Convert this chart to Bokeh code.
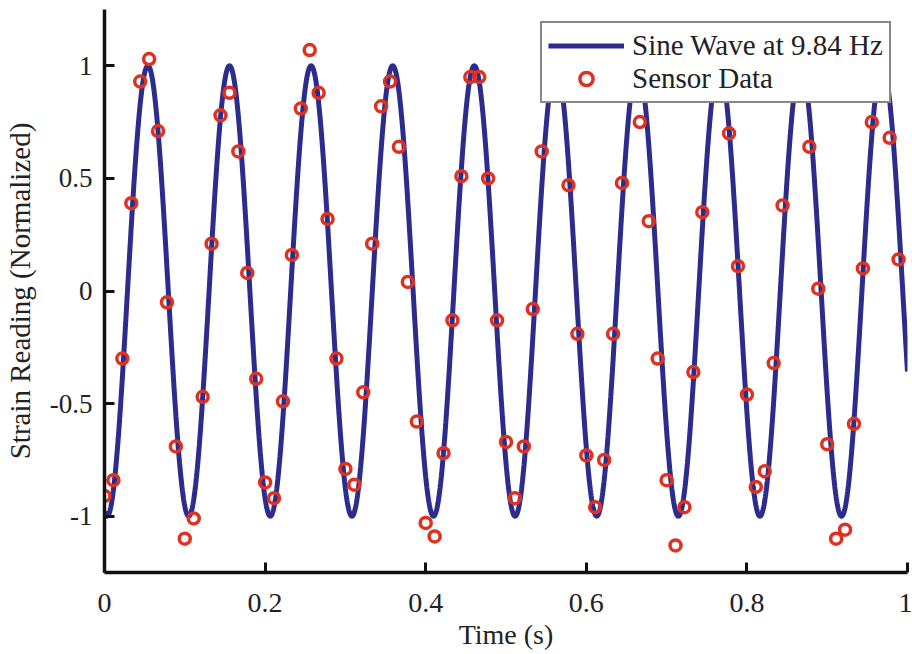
import numpy as np
from bokeh.plotting import figure
from bokeh.models import FixedTicker, Legend, LegendItem, Range1d
from bokeh.embed import file_html
from bokeh.resources import INLINE

# ---- data ----
sine_freq_hz = 9.84
sine_phase_rad = -1.77
sample_rate_hz = 90.0

sensor_values = [
    -0.91, -0.84, -0.30, 0.39, 0.93, 1.03, 0.71, -0.05, -0.69, -1.10,
    -1.01, -0.47, 0.21, 0.78, 0.88, 0.62, 0.08, -0.39, -0.85, -0.92,
    -0.49, 0.16, 0.81, 1.07, 0.88, 0.32, -0.30, -0.79, -0.86, -0.45,
    0.21, 0.82, 0.93, 0.64, 0.04, -0.58, -1.03, -1.09, -0.72, -0.13,
    0.51, 0.95, 0.95, 0.50, -0.13, -0.67, -0.92, -0.69, -0.08, 0.62,
    0.97, 0.95, 0.47, -0.19, -0.73, -0.96, -0.75, -0.19, 0.48, 0.93,
    0.75, 0.31, -0.30, -0.84, -1.13, -0.96, -0.36, 0.35, 0.90, 0.99,
    0.70, 0.11, -0.46, -0.87, -0.80, -0.32, 0.38, 0.90, 0.98, 0.64,
    0.01, -0.68, -1.10, -1.06, -0.59, 0.10, 0.75, 0.92, 0.68, 0.14,
]
sensor_times = [i / sample_rate_hz for i in range(len(sensor_values))]

x_ticks = [0, 0.2, 0.4, 0.6, 0.8, 1.0]
x_tick_labels = ["0", "0.2", "0.4", "0.6", "0.8", "1"]
y_ticks = [-1, -0.5, 0, 0.5, 1]
y_tick_labels = ["-1", "-0.5", "0", "0.5", "1"]

line_t = np.linspace(0, 1, 2001)
line_y = np.sin(2 * np.pi * sine_freq_hz * line_t + sine_phase_rad)

# ---- figure ----
FONT = "Liberation Serif"
p = figure(width=912, height=654, output_backend="svg", toolbar_location=None,
           x_range=Range1d(0, 1), y_range=Range1d(-1.25, 1.25),
           min_border_left=104, min_border_right=5, min_border_top=9,
           min_border_bottom=82)
p.outline_line_color = None
p.grid.visible = False
p.background_fill_color = "white"
p.border_fill_color = "white"

l1 = p.line(line_t, line_y, line_color="#2B2C8C", line_width=5)
c1 = p.scatter(sensor_times, sensor_values, marker="circle", size=11,
               fill_color=None, line_color="#DE3121", line_width=3.5)

for ax, ticks, labels in ((p.xaxis[0], x_ticks, x_tick_labels),
                          (p.yaxis[0], y_ticks, y_tick_labels)):
    ax.ticker = FixedTicker(ticks=ticks)
    ax.major_label_overrides = {t: s for t, s in zip(ticks, labels)}
    ax.minor_tick_line_color = None
    ax.major_tick_in = 10
    ax.major_tick_out = 0
    ax.major_tick_line_width = 3
    ax.major_tick_line_color = "#111111"
    ax.axis_line_width = 3.5
    ax.axis_line_color = "#111111"
    ax.major_label_text_font = FONT
    ax.major_label_text_color = "#222222"
    ax.axis_label_text_font = FONT
    ax.axis_label_text_font_style = "normal"
    ax.axis_label_text_color = "#222222"

p.xaxis.axis_label = "Time (s)"
p.xaxis.major_label_text_font_size = "28px"
p.xaxis.axis_label_text_font_size = "28px"
p.xaxis.major_label_standoff = 21
p.xaxis.axis_label_standoff = 4

p.yaxis.axis_label = "Strain Reading (Normalized)"
p.yaxis.major_label_text_font_size = "27px"
p.yaxis.axis_label_text_font_size = "29px"
p.yaxis.major_label_standoff = 12
p.yaxis.axis_label_standoff = 11

legend = Legend(items=[LegendItem(label="Sine Wave at 9.84 Hz", renderers=[l1]),
                       LegendItem(label="Sensor Data", renderers=[c1])],
                location=(436, 469), margin=0,
                label_text_font=FONT, label_text_font_size="29px",
                label_text_color="#222222",
                glyph_width=76, glyph_height=33, label_height=33,
                label_standoff=8, padding=6, spacing=0,
                border_line_color="#111111", border_line_width=2.5,
                background_fill_color="white", background_fill_alpha=1.0)
p.add_layout(legend)

open("out.html", "w").write(file_html(p, INLINE))
